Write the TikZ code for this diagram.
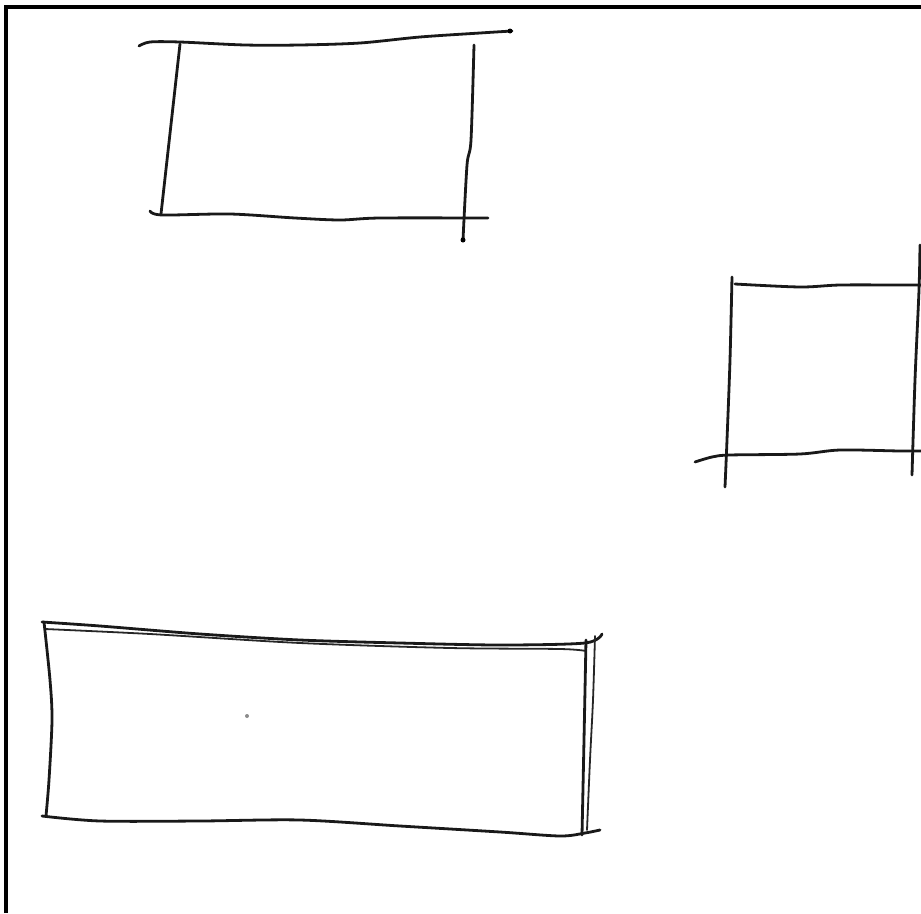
\documentclass[tikz,border=0pt]{standalone}
\begin{document}
\begin{tikzpicture}[x=1pt,y=-1pt,
  pen/.style={line width=2.8pt,line cap=round,line join=round,black!90},
  thinpen/.style={line width=1.8pt,line cap=round,line join=round,black!85},
  frame/.style={line width=3.5pt,black}]
\useasboundingbox (0,0) rectangle (921,913);
\fill[white] (0,0) rectangle (921,913);
% frame (top and left only)
\draw[frame] (6,913) -- (6,7) -- (921,7);
% rectangle 1
\draw[pen] plot[smooth,tension=0.5] coordinates {(139,46) (150,42) (180,42) (245,45) (300,45) (360,43) (420,37) (480,33) (512,31)};
\fill (510,31) circle (2.5pt);
\draw[pen] (180,44) -- (161,214);
\draw[pen] plot[smooth,tension=0.5] coordinates {(150,211) (162,215) (230,214) (295,218) (340,220) (380,218) (488,218)};
\draw[pen] plot[smooth,tension=0.5] coordinates {(474,45) (471,140) (467,165) (463,240)};
\fill (463,240) circle (2.5pt);
% rectangle 2
\draw[pen] plot[smooth,tension=0.5] coordinates {(732,277) (730,360) (727,440) (725,487)};
\draw[pen] plot[smooth,tension=0.5] coordinates {(735,284) (800,287) (840,285) (900,285) (921,285)};
\draw[pen] plot[smooth,tension=0.5] coordinates {(920,245) (919,290) (915,380) (912,475)};
\draw[pen] plot[smooth,tension=0.5] coordinates {(695,462) (712,457) (730,455) (800,454) (840,450) (900,451) (921,451)};
% rectangle 3
\draw[pen] plot[smooth,tension=0.5] coordinates {(42,622) (100,626) (200,634) (300,640) (400,643) (500,645) (585,643) (602,634)};
\draw[thinpen] plot[smooth,tension=0.5] coordinates {(45,629) (150,634) (300,643) (450,648) (560,649) (586,651)};
\draw[pen] plot[smooth,tension=0.5] coordinates {(44,622) (50,680) (52,720) (49,780) (46,816)};
\draw[pen] plot[smooth,tension=0.5] coordinates {(42,816) (100,821) (200,821) (300,820) (400,826) (500,832) (560,836) (585,833) (600,830)};
\draw[pen] plot[smooth,tension=0.5] coordinates {(586,640) (584,740) (582,835)};
\draw[thinpen] plot[smooth,tension=0.5] coordinates {(595,636) (593,700) (590,760) (587,830)};
\fill[black!45] (247,716) circle (2pt);
\end{tikzpicture}
\end{document}
